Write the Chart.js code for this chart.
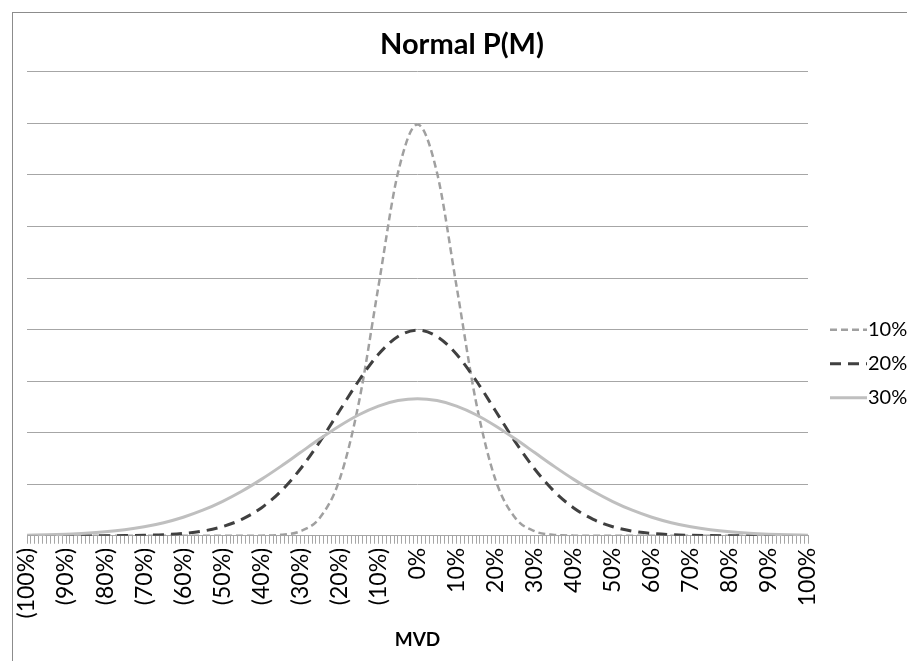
<!DOCTYPE html>
<html>
<head>
<meta charset="utf-8">
<script src="https://cdn.jsdelivr.net/npm/chart.js@4.4.1/dist/chart.umd.min.js"></script>
<style>
  html, body { margin: 0; padding: 0; background: #fff; overflow: hidden; }
  #wrap { position: relative; width: 907px; height: 661px; }
  #frame { position: absolute; left: 12px; top: 12px; width: 1000px; height: 1000px; border: 1px solid #8c8c8c; box-sizing: border-box; }
  #chart { position: absolute; left: 0; top: 0; }
</style>
</head>
<body>
<div id="wrap">
  <div id="frame"></div>
  <canvas id="chart" width="907" height="661"></canvas>
</div>
<script>
// MVD points (every 5%)
const xs = [-1, -0.95, -0.9, -0.85, -0.8, -0.75, -0.7, -0.65, -0.6, -0.55, -0.5,
  -0.45, -0.4, -0.35, -0.3, -0.25, -0.2, -0.15, -0.1, -0.05, 0,
  0.05, 0.1, 0.15, 0.2, 0.25, 0.3, 0.35, 0.4, 0.45, 0.5,
  0.55, 0.6, 0.65, 0.7, 0.75, 0.8, 0.85, 0.9, 0.95, 1];

const p10 = [0, 0, 0, 0, 0, 0, 0, 0, 0, 0, 0,
  0.0002, 0.0013, 0.0087, 0.044, 0.175, 0.540, 1.295, 2.420, 3.521, 3.989,
  3.521, 2.420, 1.295, 0.540, 0.175, 0.044, 0.0087, 0.0013, 0.0002, 0,
  0, 0, 0, 0, 0, 0, 0, 0, 0, 0];

const p20 = [0, 0, 0.0001, 0.0002, 0.0007, 0.0018, 0.0044, 0.0101, 0.0222, 0.0455, 0.0876,
  0.159, 0.270, 0.431, 0.648, 0.913, 1.210, 1.506, 1.760, 1.933, 1.995,
  1.933, 1.760, 1.506, 1.210, 0.913, 0.648, 0.431, 0.270, 0.159, 0.0876,
  0.0455, 0.0222, 0.0101, 0.0044, 0.0018, 0.0007, 0.0002, 0.0001, 0, 0];

const p30 = [0.0051, 0.0088, 0.0148, 0.0240, 0.0380, 0.0584, 0.0874, 0.127, 0.180, 0.248, 0.332,
  0.432, 0.547, 0.673, 0.807, 0.940, 1.065, 1.174, 1.258, 1.311, 1.330,
  1.311, 1.258, 1.174, 1.065, 0.940, 0.807, 0.673, 0.547, 0.432, 0.332,
  0.248, 0.180, 0.127, 0.0874, 0.0584, 0.0380, 0.0240, 0.0148, 0.0088, 0.0051];

const tickLabels = ["(100%)", "(90%)", "(80%)", "(70%)", "(60%)", "(50%)", "(40%)", "(30%)", "(20%)", "(10%)",
  "0%", "10%", "20%", "30%", "40%", "50%", "60%", "70%", "80%", "90%", "100%"];

const seriesNames = ["10%", "20%", "30%"];

const FONT = "Lato, 'Open Sans', sans-serif";
const GRID = "#a6a6a6";

function pts(ys) {
  return xs.map((x, i) => ({ x: x, y: ys[i] }));
}

// legend drawn at the right, Excel style (line sample + text)
const sideLegend = {
  id: "sideLegend",
  afterDraw(chart) {
    const ctx = chart.ctx;
    const area = chart.chartArea;
    const x0 = area.right + 22;
    ctx.save();
    chart.data.datasets.forEach((ds, i) => {
      const y = area.top + 258 + i * 34;
      ctx.strokeStyle = ds.borderColor;
      ctx.lineWidth = ds.borderWidth;
      ctx.setLineDash(ds.borderDash || []);
      ctx.beginPath();
      ctx.moveTo(x0, y);
      ctx.lineTo(x0 + 37, y);
      ctx.stroke();
      ctx.setLineDash([]);
      ctx.fillStyle = "#000";
      ctx.font = "20px " + FONT;
      ctx.textBaseline = "middle";
      ctx.textAlign = "left";
      ctx.fillText(ds.label, x0 + 38, y);
    });
    ctx.restore();
  }
};

new Chart(document.getElementById("chart"), {
  type: "line",
  data: {
    datasets: [
      { label: seriesNames[0], data: pts(p10), borderColor: "#a0a0a0", borderWidth: 2.5, borderDash: [7, 4], order: 3 },
      { label: seriesNames[1], data: pts(p20), borderColor: "#404040", borderWidth: 3, borderDash: [11, 7], order: 2 },
      { label: seriesNames[2], data: pts(p30), borderColor: "#bfbfbf", borderWidth: 3, order: 1 }
    ]
  },
  options: {
    responsive: false,
    animation: false,
    devicePixelRatio: 1,
    layout: { padding: { left: 17, right: 0, top: 12, bottom: 0 } },
    elements: {
      point: { radius: 0 },
      line: { cubicInterpolationMode: "monotone", fill: false }
    },
    plugins: {
      legend: { display: false },
      tooltip: { enabled: false },
      title: {
        display: true,
        text: "Normal P(M)",
        color: "#000",
        font: { family: FONT, size: 29, weight: "bold" },
        padding: { top: 15, bottom: 10 }
      }
    },
    scales: {
      x: {
        type: "linear",
        min: -1,
        max: 1,
        grid: { display: true, drawOnChartArea: false, drawTicks: true, tickLength: 8, color: GRID },
        border: { display: true, color: GRID, width: 1 },
        ticks: {
          stepSize: 0.01,
          autoSkip: false,
          minRotation: 90,
          maxRotation: 90,
          padding: 4,
          color: "#000",
          font: { family: FONT, size: 23 },
          callback: (v) => {
            const p = Math.round(v * 100);
            return p % 10 === 0 ? tickLabels[(p + 100) / 10] : "";
          }
        },
        title: {
          display: true,
          text: "MVD",
          color: "#000",
          font: { family: FONT, size: 19, weight: "bold", lineHeight: 1 },
          padding: { top: 8, bottom: 11.5 }
        }
      },
      y: {
        position: "left",
        min: 0,
        max: 4.5,
        grid: { color: GRID, drawTicks: false },
        border: { display: false },
        ticks: { display: false, stepSize: 0.5 },
        afterFit: (s) => { s.width = 10; }
      },
      yr: {
        type: "linear",
        position: "right",
        grid: { display: false },
        border: { display: false },
        ticks: { display: false },
        afterFit: (s) => { s.width = 99; }
      }
    }
  },
  plugins: [sideLegend]
});
</script>
</body>
</html>
